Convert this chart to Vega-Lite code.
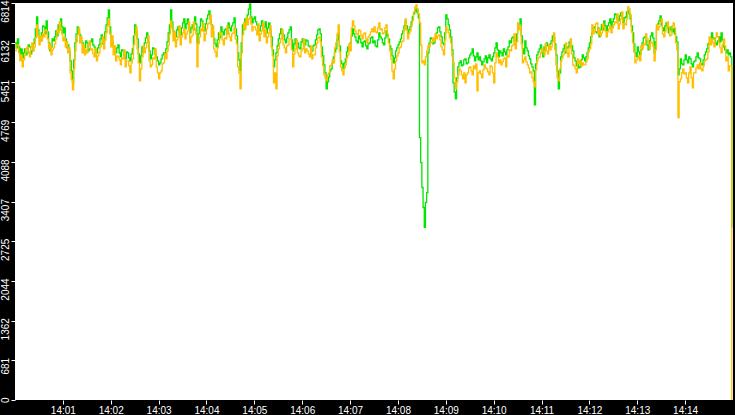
{
  "$schema": "https://vega.github.io/schema/vega-lite/v6.json",
  "width": 735,
  "height": 415,
  "autosize": {"type": "fit", "contains": "padding"},
  "padding": 0,
  "background": "black",
  "data": {
    "values": [
      {"s":0,"g":6129,"o":5992},{"s":1.5,"g":6044,"o":6095},{"s":3,"g":6198,"o":6095},{"s":4.5,"g":6061,"o":5958},{"s":6,"g":5924,"o":5821},{"s":7.5,"g":6027,"o":5924},
      {"s":9,"g":5872,"o":5718},{"s":10.5,"g":5958,"o":5838},{"s":12,"g":6027,"o":5924},{"s":13.5,"g":5924,"o":6027},{"s":15,"g":5958,"o":6061},{"s":16.5,"g":6095,"o":5975},
      {"s":18,"g":6061,"o":5890},{"s":19.5,"g":5941,"o":6044},{"s":21,"g":5992,"o":6129},{"s":22.5,"g":6112,"o":5992},{"s":24,"g":6198,"o":6061},{"s":25.5,"g":6369,"o":6215},
      {"s":27,"g":6574,"o":6437},{"s":28.5,"g":6352,"o":6249},{"s":30,"g":6215,"o":6095},{"s":31.5,"g":6164,"o":6249},{"s":33,"g":6300,"o":6164},{"s":34.5,"g":6420,"o":6283},
      {"s":36,"g":6403,"o":6232},{"s":37.5,"g":6283,"o":6352},{"s":39,"g":6506,"o":6335},{"s":40.5,"g":6318,"o":6198},{"s":42,"g":6129,"o":6027},{"s":43.5,"g":5992,"o":6112},
      {"s":45,"g":6061,"o":5924},{"s":46.5,"g":6198,"o":6010},{"s":48,"g":6164,"o":6044},{"s":49.5,"g":6232,"o":6112},{"s":51,"g":6335,"o":6198},{"s":52.5,"g":6249,"o":6352},
      {"s":54,"g":6437,"o":6300},{"s":55.5,"g":6352,"o":6489},{"s":57,"g":6540,"o":6369},{"s":58.5,"g":6403,"o":6283},{"s":60,"g":6300,"o":6164},{"s":61.5,"g":6386,"o":6215},
      {"s":63,"g":6198,"o":6061},{"s":64.5,"g":6044,"o":6147},{"s":66,"g":6095,"o":5958},{"s":67.5,"g":5975,"o":6044},{"s":69,"g":5821,"o":5616},{"s":70.5,"g":5650,"o":5496},
      {"s":72,"g":5444,"o":5325},{"s":73.5,"g":5838,"o":5684},{"s":75,"g":6129,"o":5992},{"s":76.5,"g":6283,"o":6147},{"s":78,"g":6403,"o":6266},{"s":79.5,"g":6318,"o":6386},
      {"s":81,"g":6266,"o":6129},{"s":82.5,"g":6164,"o":6232},{"s":84,"g":6129,"o":5958},{"s":85.5,"g":6027,"o":6095},{"s":87,"g":6044,"o":5924},{"s":88.5,"g":6164,"o":6010},
      {"s":90,"g":6129,"o":5958},{"s":91.5,"g":5992,"o":6095},{"s":93,"g":6027,"o":6164},{"s":94.5,"g":6147,"o":6010},{"s":96,"g":6198,"o":6027},{"s":97.5,"g":6095,"o":5941},
      {"s":99,"g":6061,"o":5890},{"s":100.5,"g":5941,"o":6027},{"s":102,"g":5958,"o":5821},{"s":103.5,"g":6044,"o":5907},{"s":105,"g":6095,"o":5958},{"s":106.5,"g":6198,"o":6061},
      {"s":108,"g":6266,"o":6129},{"s":109.5,"g":6112,"o":6232},{"s":111,"g":6164,"o":6027},{"s":112.5,"g":6318,"o":6181},{"s":114,"g":6437,"o":6300},{"s":115.5,"g":6557,"o":6420},
      {"s":117,"g":6694,"o":6540},{"s":118.5,"g":6403,"o":6283},{"s":120,"g":6232,"o":6061},{"s":121.5,"g":6147,"o":6249},{"s":123,"g":6061,"o":5924},{"s":124.5,"g":5975,"o":6078},
      {"s":126,"g":5958,"o":5821},{"s":127.5,"g":6044,"o":5907},{"s":129,"g":6095,"o":5890},{"s":130.5,"g":5958,"o":5838},{"s":132,"g":5890,"o":5752},{"s":133.5,"g":6010,"o":5872},
      {"s":135,"g":5992,"o":5855},{"s":136.5,"g":5907,"o":6010},{"s":138,"g":5855,"o":5718},{"s":139.5,"g":5975,"o":5821},{"s":141,"g":5958,"o":5821},{"s":142.5,"g":5872,"o":5735},
      {"s":144,"g":5821,"o":5616},{"s":145.5,"g":5941,"o":5787},{"s":147,"g":6027,"o":5855},{"s":148.5,"g":6249,"o":6095},{"s":150,"g":6437,"o":6266},{"s":151.5,"g":6318,"o":6403},
      {"s":153,"g":6198,"o":6027},{"s":154.5,"g":5941,"o":5787},{"s":156,"g":5787,"o":5478},{"s":157.5,"g":5907,"o":5684},{"s":159,"g":6061,"o":5890},{"s":160.5,"g":5975,"o":6078},
      {"s":162,"g":6129,"o":5958},{"s":163.5,"g":6215,"o":6044},{"s":165,"g":6300,"o":6129},{"s":166.5,"g":6147,"o":6249},{"s":168,"g":5992,"o":5821},{"s":169.5,"g":5855,"o":5718},
      {"s":171,"g":5924,"o":5752},{"s":172.5,"g":6044,"o":5872},{"s":174,"g":6027,"o":5855},{"s":175.5,"g":5941,"o":6027},{"s":177,"g":5890,"o":5718},{"s":178.5,"g":5821,"o":5616},
      {"s":180,"g":5752,"o":5513},{"s":181.5,"g":5787,"o":5616},{"s":183,"g":5855,"o":5650},{"s":184.5,"g":5924,"o":5770},{"s":186,"g":5958,"o":5787},{"s":187.5,"g":5872,"o":5941},
      {"s":189,"g":6027,"o":5855},{"s":190.5,"g":6147,"o":5992},{"s":192,"g":6300,"o":6095},{"s":193.5,"g":6437,"o":6283},{"s":195,"g":6694,"o":6506},{"s":196.5,"g":6489,"o":6386},
      {"s":198,"g":6335,"o":6164},{"s":199.5,"g":6215,"o":6318},{"s":201,"g":6232,"o":6061},{"s":202.5,"g":6352,"o":6181},{"s":204,"g":6403,"o":6232},{"s":205.5,"g":6318,"o":6420},
      {"s":207,"g":6266,"o":6095},{"s":208.5,"g":6386,"o":6232},{"s":210,"g":6472,"o":6300},{"s":211.5,"g":6540,"o":6369},{"s":213,"g":6369,"o":6198},{"s":214.5,"g":6455,"o":6283},
      {"s":216,"g":6540,"o":6335},{"s":217.5,"g":6403,"o":6489},{"s":219,"g":6300,"o":6129},{"s":220.5,"g":6386,"o":6232},{"s":222,"g":6437,"o":6266},{"s":223.5,"g":6352,"o":6489},
      {"s":225,"g":6574,"o":6369},{"s":226.5,"g":6455,"o":6283},{"s":228,"g":6129,"o":5718},{"s":229.5,"g":6283,"o":6112},{"s":231,"g":6403,"o":6232},{"s":232.5,"g":6540,"o":6369},
      {"s":234,"g":6506,"o":6335},{"s":235.5,"g":6386,"o":6455},{"s":237,"g":6335,"o":6164},{"s":238.5,"g":6455,"o":6283},{"s":240,"g":6540,"o":6369},{"s":241.5,"g":6609,"o":6455},
      {"s":243,"g":6677,"o":6472},{"s":244.5,"g":6540,"o":6609},{"s":246,"g":6437,"o":6232},{"s":247.5,"g":6318,"o":6420},{"s":249,"g":6198,"o":6027},{"s":250.5,"g":6112,"o":5975},
      {"s":252,"g":6061,"o":5890},{"s":253.5,"g":6181,"o":6044},{"s":255,"g":6300,"o":6129},{"s":256.5,"g":6215,"o":6318},{"s":258,"g":6403,"o":6266},{"s":259.5,"g":6318,"o":6181},
      {"s":261,"g":6266,"o":6095},{"s":262.5,"g":6352,"o":6215},{"s":264,"g":6369,"o":6198},{"s":265.5,"g":6283,"o":6420},{"s":267,"g":6472,"o":6300},{"s":268.5,"g":6386,"o":6232},
      {"s":270,"g":6335,"o":6164},{"s":271.5,"g":6420,"o":6283},{"s":273,"g":6472,"o":6300},{"s":274.5,"g":6557,"o":6386},{"s":276,"g":6369,"o":6198},{"s":277.5,"g":6249,"o":6112},
      {"s":279,"g":5958,"o":5718},{"s":280.5,"g":5838,"o":5616},{"s":282,"g":5650,"o":5342},{"s":283.5,"g":6129,"o":5958},{"s":285,"g":6437,"o":6266},{"s":286.5,"g":6352,"o":6472},
      {"s":288,"g":6540,"o":6369},{"s":289.5,"g":6455,"o":6557},{"s":291,"g":6609,"o":6437},{"s":292.5,"g":6711,"o":6540},{"s":294,"g":6797,"o":6574},{"s":295.5,"g":6574,"o":6455},
      {"s":297,"g":6472,"o":6335},{"s":298.5,"g":6540,"o":6403},{"s":300,"g":6574,"o":6403},{"s":301.5,"g":6489,"o":6352},{"s":303,"g":6437,"o":6266},{"s":304.5,"g":6352,"o":6455},
      {"s":306,"g":6335,"o":6164},{"s":307.5,"g":6420,"o":6283},{"s":309,"g":6506,"o":6335},{"s":310.5,"g":6386,"o":6472},{"s":312,"g":6403,"o":6232},{"s":313.5,"g":6489,"o":6352},
      {"s":315,"g":6300,"o":6129},{"s":316.5,"g":6386,"o":6232},{"s":318,"g":6472,"o":6300},{"s":319.5,"g":6352,"o":6420},{"s":321,"g":6232,"o":6061},{"s":322.5,"g":6010,"o":5907},
      {"s":324,"g":5718,"o":5444},{"s":325.5,"g":5838,"o":5616},{"s":327,"g":5958,"o":5342},{"s":328.5,"g":6078,"o":5907},{"s":330,"g":6198,"o":6027},{"s":331.5,"g":6283,"o":6130},
      {"s":333,"g":6369,"o":6198},{"s":334.5,"g":6283,"o":6352},{"s":336,"g":6266,"o":6095},{"s":337.5,"g":6181,"o":6044},{"s":339,"g":6129,"o":5958},{"s":340.5,"g":6215,"o":6078},
      {"s":342,"g":6300,"o":6095},{"s":343.5,"g":6352,"o":6198},{"s":345,"g":6403,"o":6198},{"s":346.5,"g":6181,"o":6010},{"s":348,"g":5992,"o":5718},{"s":349.5,"g":6112,"o":5941},
      {"s":351,"g":6198,"o":6027},{"s":352.5,"g":6078,"o":6181},{"s":354,"g":6129,"o":5958},{"s":355.5,"g":6044,"o":5907},{"s":357,"g":6027,"o":5890},{"s":358.5,"g":6147,"o":5992},
      {"s":360,"g":6198,"o":6027},{"s":361.5,"g":6112,"o":6198},{"s":363,"g":6095,"o":5958},{"s":364.5,"g":6181,"o":6027},{"s":366,"g":6164,"o":5992},{"s":367.5,"g":6078,"o":5941},
      {"s":369,"g":6061,"o":5890},{"s":370.5,"g":5975,"o":6078},{"s":372,"g":5992,"o":5855},{"s":373.5,"g":6078,"o":5924},{"s":375,"g":6095,"o":5924},{"s":376.5,"g":6181,"o":6044},
      {"s":378,"g":6266,"o":6129},{"s":379.5,"g":6352,"o":6215},{"s":381,"g":6369,"o":6232},{"s":382.5,"g":6283,"o":6147},{"s":384,"g":6061,"o":5890},{"s":385.5,"g":5907,"o":5735},
      {"s":387,"g":5752,"o":5582},{"s":388.5,"g":5616,"o":5530},{"s":390,"g":5342,"o":5478},{"s":391.5,"g":5462,"o":5582},{"s":393,"g":5547,"o":5616},{"s":394.5,"g":5650,"o":5735},
      {"s":396,"g":5684,"o":5752},{"s":397.5,"g":5787,"o":5838},{"s":399,"g":5890,"o":5787},{"s":400.5,"g":5975,"o":6044},{"s":402,"g":6027,"o":6129},{"s":403.5,"g":6181,"o":6283},
      {"s":405,"g":6300,"o":6437},{"s":406.5,"g":6078,"o":5975},{"s":408,"g":5821,"o":5718},{"s":409.5,"g":5770,"o":5650},{"s":411,"g":5684,"o":5582},{"s":412.5,"g":5787,"o":5701},
      {"s":414,"g":5855,"o":5752},{"s":415.5,"g":5975,"o":5872},{"s":417,"g":6061,"o":5924},{"s":418.5,"g":6010,"o":6112},{"s":420,"g":6129,"o":5992},{"s":421.5,"g":6249,"o":6386},
      {"s":423,"g":6369,"o":6506},{"s":424.5,"g":6283,"o":6420},{"s":426,"g":6232,"o":6335},{"s":427.5,"g":6164,"o":6283},{"s":429,"g":6129,"o":6266},{"s":430.5,"g":6249,"o":6352},
      {"s":432,"g":6198,"o":6335},{"s":433.5,"g":6130,"o":6249},{"s":435,"g":6061,"o":6198},{"s":436.5,"g":6147,"o":6283},{"s":438,"g":6164,"o":6300},{"s":439.5,"g":6078,"o":6198},
      {"s":441,"g":6027,"o":6129},{"s":442.5,"g":6112,"o":6232},{"s":444,"g":6129,"o":6266},{"s":445.5,"g":6215,"o":6318},{"s":447,"g":6232,"o":6369},{"s":448.5,"g":6130,"o":6318},
      {"s":450,"g":6164,"o":6403},{"s":451.5,"g":6078,"o":6318},{"s":453,"g":6061,"o":6300},{"s":454.5,"g":6181,"o":6386},{"s":456,"g":6300,"o":6472},{"s":457.5,"g":6232,"o":6352},
      {"s":459,"g":6198,"o":6369},{"s":460.5,"g":6130,"o":6283},{"s":462,"g":6095,"o":6300},{"s":463.5,"g":6215,"o":6386},{"s":465,"g":6335,"o":6437},{"s":466.5,"g":6249,"o":6283},
      {"s":468,"g":6198,"o":6129},{"s":469.5,"g":6078,"o":5992},{"s":471,"g":6027,"o":5855},{"s":472.5,"g":5907,"o":5650},{"s":474,"g":5787,"o":5513},{"s":475.5,"g":5872,"o":5684},
      {"s":477,"g":5992,"o":5821},{"s":478.5,"g":6044,"o":5907},{"s":480,"g":6095,"o":5958},{"s":481.5,"g":6147,"o":6044},{"s":483,"g":6198,"o":6061},{"s":484.5,"g":6283,"o":6147},
      {"s":486,"g":6335,"o":6164},{"s":487.5,"g":6420,"o":6352},{"s":489,"g":6506,"o":6540},{"s":490.5,"g":6420,"o":6352},{"s":492,"g":6300,"o":6198},{"s":493.5,"g":6352,"o":6283},
      {"s":495,"g":6403,"o":6335},{"s":496.5,"g":6489,"o":6420},{"s":498,"g":6574,"o":6506},{"s":499.5,"g":6626,"o":6660},{"s":501,"g":6677,"o":6745},{"s":502.5,"g":6711,"o":6780},
      {"s":504,"g":6643,"o":6711},{"s":505.5,"g":6557,"o":6626},{"s":507,"g":4503,"o":6472},{"s":508.5,"g":4075,"o":6095},{"s":510,"g":3647,"o":5787},{"s":511.5,"g":3304,"o":5821},
      {"s":513,"g":2962,"o":5752},{"s":514.5,"g":3390,"o":5890},{"s":516,"g":3561,"o":5992},{"s":517.5,"g":5958,"o":6078},{"s":519,"g":6129,"o":6061},{"s":520.5,"g":6215,"o":6147},
      {"s":522,"g":6198,"o":6129},{"s":523.5,"g":6112,"o":6215},{"s":525,"g":6129,"o":6164},{"s":526.5,"g":6215,"o":6283},{"s":528,"g":6300,"o":6198},{"s":529.5,"g":6386,"o":6249},
      {"s":531,"g":6403,"o":6266},{"s":532.5,"g":6318,"o":6181},{"s":534,"g":6232,"o":6061},{"s":535.5,"g":6130,"o":6010},{"s":537,"g":6095,"o":5924},{"s":538.5,"g":6300,"o":6181},
      {"s":540,"g":6609,"o":6403},{"s":541.5,"g":6540,"o":6352},{"s":543,"g":6437,"o":6300},{"s":544.5,"g":6352,"o":6215},{"s":546,"g":6232,"o":6129},{"s":547.5,"g":6010,"o":5907},
      {"s":549,"g":5444,"o":5787},{"s":550.5,"g":5290,"o":5530},{"s":552,"g":5170,"o":5342},{"s":553.5,"g":5530,"o":5462},{"s":555,"g":5718,"o":5582},{"s":556.5,"g":5787,"o":5684},
      {"s":558,"g":5821,"o":5650},{"s":559.5,"g":5735,"o":5582},{"s":561,"g":5752,"o":5513},{"s":562.5,"g":5838,"o":5616},{"s":564,"g":5855,"o":5444},{"s":565.5,"g":5770,"o":5582},
      {"s":567,"g":5787,"o":5616},{"s":568.5,"g":5872,"o":5701},{"s":570,"g":5924,"o":5718},{"s":571.5,"g":5958,"o":5650},{"s":573,"g":6027,"o":5582},{"s":574.5,"g":5907,"o":5735},
      {"s":576,"g":5821,"o":5684},{"s":577.5,"g":5889,"o":5770},{"s":579,"g":5958,"o":5307},{"s":580.5,"g":5838,"o":5616},{"s":582,"g":5890,"o":5650},{"s":583.5,"g":5821,"o":5598},
      {"s":585,"g":5752,"o":5530},{"s":586.5,"g":5804,"o":5667},{"s":588,"g":5855,"o":5752},{"s":589.5,"g":5907,"o":5701},{"s":591,"g":5787,"o":5684},{"s":592.5,"g":5872,"o":5633},
      {"s":594,"g":5924,"o":5582},{"s":595.5,"g":5855,"o":5735},{"s":597,"g":5821,"o":5718},{"s":598.5,"g":5889,"o":5616},{"s":600,"g":5958,"o":5444},{"s":601.5,"g":6044,"o":5787},
      {"s":603,"g":6129,"o":5958},{"s":604.5,"g":6010,"o":5889},{"s":606,"g":5890,"o":5787},{"s":607.5,"g":5992,"o":5838},{"s":609,"g":5958,"o":5752},{"s":610.5,"g":5907,"o":5804},
      {"s":612,"g":6027,"o":5855},{"s":613.5,"g":5975,"o":5872},{"s":615,"g":5924,"o":5718},{"s":616.5,"g":6010,"o":5907},{"s":618,"g":6061,"o":5890},{"s":619.5,"g":6164,"o":6010},
      {"s":621,"g":6129,"o":5992},{"s":622.5,"g":6215,"o":6078},{"s":624,"g":6232,"o":6095},{"s":625.5,"g":6164,"o":6283},{"s":627,"g":6164,"o":6027},{"s":628.5,"g":6283,"o":6147},
      {"s":630,"g":6369,"o":6472},{"s":631.5,"g":6455,"o":6352},{"s":633,"g":6540,"o":6403},{"s":634.5,"g":6249,"o":6112},{"s":636,"g":6027,"o":5787},{"s":637.5,"g":5941,"o":5838},
      {"s":639,"g":6164,"o":5890},{"s":640.5,"g":6044,"o":5804},{"s":642,"g":5992,"o":5752},{"s":643.5,"g":5907,"o":5701},{"s":645,"g":5855,"o":5616},{"s":646.5,"g":5770,"o":5633},
      {"s":648,"g":5718,"o":5530},{"s":649.5,"g":5650,"o":5462},{"s":651,"g":5068,"o":5376},{"s":652.5,"g":5770,"o":5667},{"s":654,"g":5924,"o":5821},{"s":655.5,"g":5975,"o":5872},
      {"s":657,"g":6027,"o":5890},{"s":658.5,"g":6095,"o":5958},{"s":660,"g":5958,"o":6027},{"s":661.5,"g":5889,"o":5975},{"s":663,"g":6061,"o":5924},{"s":664.5,"g":6010,"o":6112},
      {"s":666,"g":6129,"o":5992},{"s":667.5,"g":6078,"o":5941},{"s":669,"g":6027,"o":6095},{"s":670.5,"g":6112,"o":6010},{"s":672,"g":6164,"o":6061},{"s":673.5,"g":6249,"o":6147},
      {"s":675,"g":6232,"o":6300},{"s":676.5,"g":6112,"o":6010},{"s":678,"g":5924,"o":5752},{"s":679.5,"g":5650,"o":5530},{"s":681,"g":5342,"o":5478},{"s":682.5,"g":5616,"o":5684},
      {"s":684,"g":5890,"o":5821},{"s":685.5,"g":5975,"o":5872},{"s":687,"g":6027,"o":5924},{"s":688.5,"g":6095,"o":5992},{"s":690,"g":5958,"o":6129},{"s":691.5,"g":6044,"o":5958},
      {"s":693,"g":6061,"o":5890},{"s":694.5,"g":6147,"o":6044},{"s":696,"g":6129,"o":6198},{"s":697.5,"g":6078,"o":5941},{"s":699,"g":5992,"o":5752},{"s":700.5,"g":5872,"o":5735},
      {"s":702,"g":5821,"o":5684},{"s":703.5,"g":5735,"o":5616},{"s":705,"g":5787,"o":5855},{"s":706.5,"g":5701,"o":5770},{"s":708,"g":5718,"o":5821},{"s":709.5,"g":5838,"o":5735},
      {"s":711,"g":5924,"o":5787},{"s":712.5,"g":5872,"o":5752},{"s":714,"g":5821,"o":5752},{"s":715.5,"g":5889,"o":5804},{"s":717,"g":5958,"o":5855},{"s":718.5,"g":6044,"o":5975},
      {"s":720,"g":6129,"o":6027},{"s":721.5,"g":6232,"o":6112},{"s":723,"g":6300,"o":6437},{"s":724.5,"g":6386,"o":6283},{"s":726,"g":6403,"o":6335},{"s":727.5,"g":6318,"o":6455},
      {"s":729,"g":6300,"o":6472},{"s":730.5,"g":6386,"o":6283},{"s":732,"g":6232,"o":6369},{"s":733.5,"g":6352,"o":6249},{"s":735,"g":6437,"o":6300},{"s":736.5,"g":6352,"o":6455},
      {"s":738,"g":6506,"o":6403},{"s":739.5,"g":6420,"o":6335},{"s":741,"g":6335,"o":6232},{"s":742.5,"g":6420,"o":6318},{"s":744,"g":6472,"o":6369},{"s":745.5,"g":6540,"o":6420},
      {"s":747,"g":6403,"o":6300},{"s":748.5,"g":6489,"o":6386},{"s":750,"g":6540,"o":6437},{"s":751.5,"g":6626,"o":6489},{"s":753,"g":6609,"o":6472},{"s":754.5,"g":6540,"o":6626},
      {"s":756,"g":6506,"o":6369},{"s":757.5,"g":6592,"o":6455},{"s":759,"g":6643,"o":6540},{"s":760.5,"g":6557,"o":6660},{"s":762,"g":6472,"o":6369},{"s":763.5,"g":6557,"o":6455},
      {"s":765,"g":6574,"o":6437},{"s":766.5,"g":6660,"o":6540},{"s":768,"g":6677,"o":6745},{"s":769.5,"g":6626,"o":6711},{"s":771,"g":6540,"o":6609},{"s":772.5,"g":6420,"o":6318},
      {"s":774,"g":6300,"o":6129},{"s":775.5,"g":6112,"o":5975},{"s":777,"g":5958,"o":5787},{"s":778.5,"g":5889,"o":5838},{"s":780,"g":6061,"o":5855},{"s":781.5,"g":5975,"o":5907},
      {"s":783,"g":5924,"o":5821},{"s":784.5,"g":6010,"o":6078},{"s":786,"g":6129,"o":6027},{"s":787.5,"g":6215,"o":6112},{"s":789,"g":6232,"o":6095},{"s":790.5,"g":6164,"o":6283},
      {"s":792,"g":6095,"o":6198},{"s":793.5,"g":6010,"o":6112},{"s":795,"g":6164,"o":6027},{"s":796.5,"g":6249,"o":6147},{"s":798,"g":6300,"o":6129},{"s":799.5,"g":6215,"o":6078},
      {"s":801,"g":5958,"o":5821},{"s":802.5,"g":6147,"o":6010},{"s":804,"g":6369,"o":6437},{"s":805.5,"g":6455,"o":6352},{"s":807,"g":6506,"o":6403},{"s":808.5,"g":6592,"o":6489},
      {"s":810,"g":6437,"o":6540},{"s":811.5,"g":6386,"o":6283},{"s":813,"g":6335,"o":6232},{"s":814.5,"g":6420,"o":6318},{"s":816,"g":6472,"o":6369},{"s":817.5,"g":6386,"o":6489},
      {"s":819,"g":6300,"o":6403},{"s":820.5,"g":6352,"o":6249},{"s":822,"g":6403,"o":6266},{"s":823.5,"g":6318,"o":6420},{"s":825,"g":6369,"o":6472},{"s":826.5,"g":6283,"o":6386},
      {"s":828,"g":6232,"o":6129},{"s":829.5,"g":6147,"o":6010},{"s":831,"g":5582,"o":4845},{"s":832.5,"g":5684,"o":5462},{"s":834,"g":5855,"o":5513},{"s":835.5,"g":5770,"o":5616},
      {"s":837,"g":5752,"o":5684},{"s":838.5,"g":5838,"o":5598},{"s":840,"g":5924,"o":5616},{"s":841.5,"g":5838,"o":5530},{"s":843,"g":5787,"o":5444},{"s":844.5,"g":5889,"o":5616},
      {"s":846,"g":5855,"o":5718},{"s":847.5,"g":5770,"o":5530},{"s":849,"g":5718,"o":5359},{"s":850.5,"g":5804,"o":5616},{"s":852,"g":5821,"o":5616},{"s":853.5,"g":5889,"o":5701},
      {"s":855,"g":5958,"o":5752},{"s":856.5,"g":5872,"o":5684},{"s":858,"g":5855,"o":5787},{"s":859.5,"g":5770,"o":5684},{"s":861,"g":5752,"o":5650},{"s":862.5,"g":5838,"o":5735},
      {"s":864,"g":5924,"o":5821},{"s":865.5,"g":5975,"o":5838},{"s":867,"g":6027,"o":5855},{"s":868.5,"g":6112,"o":5975},{"s":870,"g":6129,"o":6232},{"s":871.5,"g":6215,"o":6095},
      {"s":873,"g":6300,"o":6198},{"s":874.5,"g":6215,"o":6130},{"s":876,"g":6198,"o":6061},{"s":877.5,"g":6130,"o":6215},{"s":879,"g":6095,"o":6300},{"s":880.5,"g":6164,"o":6232},
      {"s":882,"g":6232,"o":6129},{"s":883.5,"g":6147,"o":6044},{"s":885,"g":6300,"o":5958},{"s":886.5,"g":6181,"o":6095},{"s":888,"g":6061,"o":6198},{"s":889.5,"g":6010,"o":6078},
      {"s":891,"g":5958,"o":5821},{"s":892.5,"g":6010,"o":5889},{"s":894,"g":5924,"o":5650},{"s":895.5,"g":5958,"o":5735},{"s":897,"g":5889,"o":5735},{"s":898.5,"g":2962,"o":0}
    ]
  },
  "encoding": {
    "x": {
      "field": "s",
      "type": "quantitative",
      "scale": {"domain": [0, 900], "nice": false, "zero": false},
      "axis": {
        "values": [60, 120, 180, 240, 300, 360, 420, 480, 540, 600, 660, 720, 780, 840],
        "labelExpr": "'14:' + (datum.value < 600 ? '0' : '') + (datum.value / 60)",
        "labelFlush": false,
        "title": null
      }
    }
  },
  "layer": [
    {
      "mark": {"type": "line", "interpolate": "step-after", "color": "#00e600", "strokeWidth": 1.3},
      "encoding": {
        "y": {
          "field": "g",
          "type": "quantitative",
          "scale": {"domain": [0, 6814], "nice": false},
          "axis": {
            "values": [0, 681, 1362, 2044, 2725, 3407, 4088, 4769, 5451, 6132, 6814],
            "format": "d",
            "labelAngle": -90,
            "labelAlign": "right",
            "labelBaseline": "bottom",
            "labelOffset": -3,
            "title": null
          }
        }
      }
    },
    {
      "mark": {"type": "line", "interpolate": "step-after", "color": "#ffbf00", "strokeWidth": 1.3},
      "encoding": {
        "y": {
          "field": "o",
          "type": "quantitative",
          "axis": {
            "values": [0, 681, 1362, 2044, 2725, 3407, 4088, 4769, 5451, 6132, 6814],
            "format": "d",
            "labelAngle": -90,
            "labelAlign": "right",
            "labelBaseline": "bottom",
            "labelOffset": -3,
            "title": null
          }
        }
      }
    }
  ],
  "config": {
    "view": {"fill": "white", "stroke": null},
    "axis": {
      "domain": false,
      "grid": false,
      "ticks": true,
      "tickColor": "white",
      "tickSize": 4,
      "labelColor": "white",
      "labelFont": "Liberation Sans",
      "labelFontSize": 10,
      "labelPadding": 1
    }
  }
}
